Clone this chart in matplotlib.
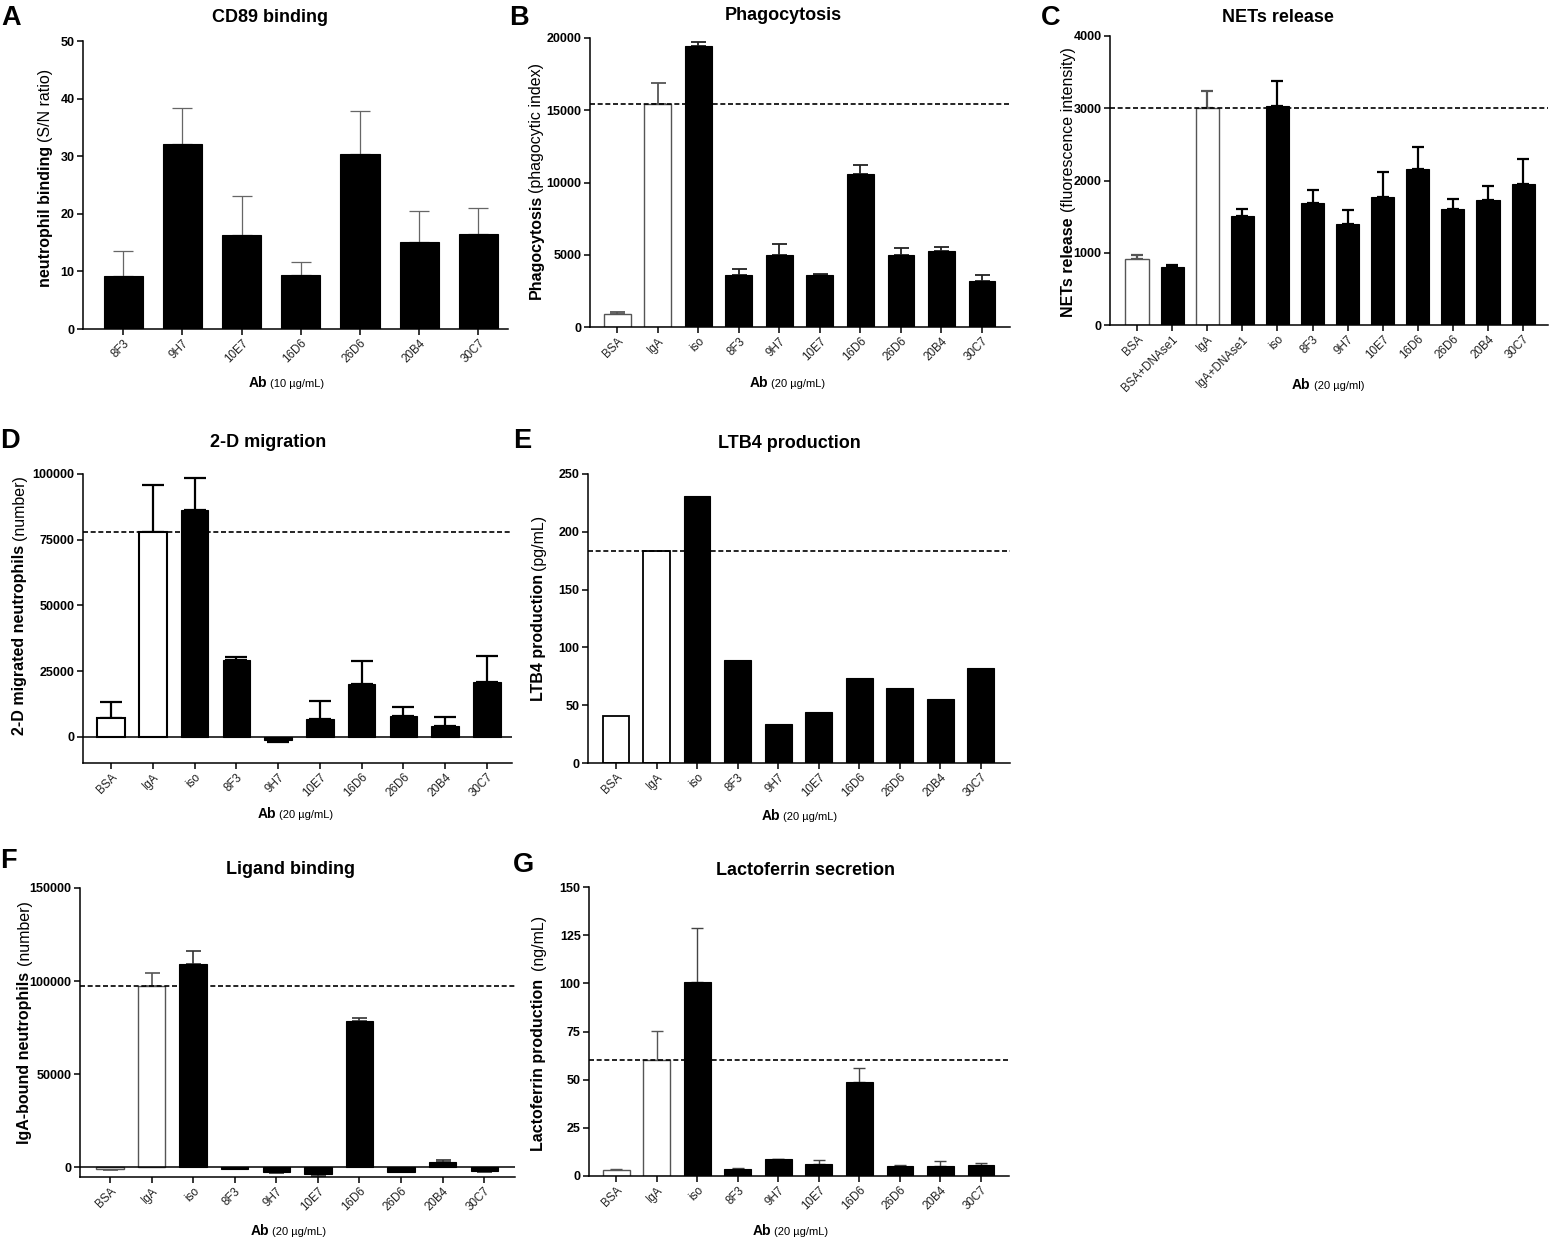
import numpy as np
import matplotlib
matplotlib.use("Agg")
import matplotlib.pyplot as plt

plt.rcParams['font.family'] = ['Liberation Sans', 'DejaVu Sans']

# ---- data ----
ab7 = ['8F3', '9H7', '10E7', '16D6', '26D6', '20B4', '30C7']
ab10 = ['BSA', 'IgA', 'iso', '8F3', '9H7', '10E7', '16D6', '26D6', '20B4', '30C7']
nets_labels = ['BSA', 'BSA+DNAse1', 'IgA', 'IgA+DNAse1', 'iso', '8F3', '9H7',
               '10E7', '16D6', '26D6', '20B4', '30C7']

cd89_mean = [9.2, 32.1, 16.3, 9.4, 30.3, 15.1, 16.5]
cd89_sem = [4.3, 6.2, 6.8, 2.3, 7.6, 5.4, 4.5]

phago_mean = [900, 15450, 19450, 3600, 4980, 3600, 10590, 4980, 5260, 3200]
phago_sem = [140, 1450, 300, 430, 760, 100, 620, 490, 250, 380]

nets_mean = [913, 807, 3008, 1513, 3026, 1693, 1393, 1772, 2155, 1610, 1735, 1952]
nets_sem = [51, 28, 235, 97, 356, 180, 199, 350, 313, 129, 189, 341]

mig_mean = [7230, 77800, 86420, 29190, -1015, 6850, 20300, 8000, 4310, 20810]
mig_sem = [6090, 18150, 12180, 1390, 885, 6850, 8630, 3550, 3430, 9900]

ltb4_mean = [41, 183, 230.7, 89.2, 33.5, 43.9, 73.6, 65, 55.7, 82.6]

lig_mean = [-800, 97600, 109360, -700, -2500, -3400, 78580, -2500, 2700, -1800]
lig_sem = [500, 6700, 6620, 200, 300, 1400, 1420, 200, 1060, 700]

lacto_mean = [2.9, 60.1, 100.8, 3.6, 8.7, 6.4, 48.8, 5.4, 5.2, 5.5]
lacto_sem = [0.9, 15.3, 28.1, 0.6, 0.2, 2.1, 7.3, 0.3, 2.4, 1.1]

open_bars = ('BSA', 'IgA')

W, H = 1550, 1239
fig = plt.figure(figsize=(W / 100, H / 100), dpi=100)

YLAB = 11.5   # y-axis label size


def fx(x):
    return x / W


def fy(y):
    return 1 - y / H


def bar_panel(rect, labels, means, sems, xlim, ylim, yticks, err_color='black',
              open_edge='#555555', ref=False, zero_line=False, err_lw=1.0, cap_px=14,
              open_lw=1.0):
    l, t, r, b = rect
    ax = fig.add_axes([fx(l), fy(b), (r - l) / W, (b - t) / H])
    x = np.arange(len(labels))
    is_open = [lab in open_bars for lab in labels]
    face = ['white' if o else 'black' for o in is_open]
    edge = [open_edge if o else 'black' for o in is_open]
    ax.bar(x, means, width=0.66, color=face, edgecolor=edge,
           linewidth=[open_lw if o else 0.8 for o in is_open], zorder=2)
    if sems is not None:
        for xi, m, s, o in zip(x, means, sems, is_open):
            yerr = [[s], [0]] if m < 0 else [[0], [s]]
            ax.errorbar([xi], [m], yerr=yerr, fmt='none',
                        ecolor=open_edge if o else err_color,
                        elinewidth=err_lw, capthick=err_lw,
                        capsize=cap_px / 2 * 0.72, zorder=1)
    if ref:
        ax.axhline(means[labels.index('IgA')], color='black', ls=(0, (3, 1.6)),
                   lw=1.2, zorder=3)
    if zero_line:
        ax.axhline(0, color='black', lw=1.1, zorder=3)
    ax.set_xlim(*xlim)
    ax.set_ylim(*ylim)
    ax.set_yticks(yticks)
    ax.set_xticks(x, labels, rotation=45, ha='right', rotation_mode='anchor',
                  fontsize=8.4, color='#222222')
    for lab in ax.get_yticklabels():
        lab.set_fontweight('bold')
        lab.set_fontsize(9)
    for side in ('top', 'right'):
        ax.spines[side].set_visible(False)
    for side in ('left', 'bottom'):
        ax.spines[side].set_linewidth(1.1)
    ax.tick_params(direction='out', length=4, width=1.1, pad=2)
    return ax


def mixed_label(parts, x, y, vertical=False, gap=4):
    # parts: (text, size, weight); x,y in reference pixels
    rend = fig.canvas.get_renderer()
    texts, lengths = [], []
    for s, size, weight in parts:
        t = fig.text(0, 0, s, size=size, weight=weight, rotation=90 if vertical else 0,
                     rotation_mode='anchor', ha='left', va='baseline')
        bb = t.get_window_extent(rend)
        texts.append(t)
        lengths.append(bb.height if vertical else bb.width)
    pos = -(sum(lengths) + gap * (len(texts) - 1)) / 2
    for t, L in zip(texts, lengths):
        if vertical:
            t.set_position((fx(x), fy(y) + pos / H))
        else:
            t.set_position((fx(x) + pos / W, fy(y)))
        pos += L + gap


def ylab(bold, normal, x, y, gap=4):
    mixed_label([(bold, YLAB, 'bold'), (normal, YLAB, 'normal')], x, y, True, gap)


def xlab(conc, x, y):
    mixed_label([('Ab', 10, 'bold'), (conc, 8, 'normal')], x, y, False, 3)


def titles(letter, lx, ly, title, tx, ty):
    fig.text(fx(lx), fy(ly), letter, size=19.5, weight='bold', ha='left', va='baseline')
    fig.text(fx(tx), fy(ty), title, size=13, weight='bold', ha='center', va='baseline')


# A
bar_panel((83, 41, 508, 329), ab7, cd89_mean, cd89_sem, (-0.68, 6.5), (0, 50),
          range(0, 51, 10), err_color='#666666', err_lw=0.9, cap_px=20)
titles('A', 1, 25, 'CD89 binding', 270, 22)
ylab('neutrophil binding', '(S/N ratio)', 50, 178)
xlab('(10 µg/mL)', 286, 387)

# B
bar_panel((590, 38, 1010, 327), ab10, phago_mean, phago_sem, (-0.67, 9.69), (0, 20000),
          range(0, 20001, 5000), err_color='#222222', err_lw=1.3, cap_px=15, ref=True)
titles('B', 509, 25, 'Phagocytosis', 783, 20)
ylab('Phagocytosis', '(phagocytic index)', 541, 181, gap=2)
xlab('(20 µg/mL)', 787, 387)

# C
bar_panel((1110, 36, 1548, 325), nets_labels, nets_mean, nets_sem, (-0.77, 11.71), (0, 4000),
          range(0, 4001, 1000), err_color='black', err_lw=1.6, cap_px=12, ref=True)
titles('C', 1041, 25, 'NETs release', 1278, 22)
ylab('NETs release', '(fluorescence intensity)', 1073, 182, gap=5)
xlab('(20 µg/ml)', 1328, 389)

# D
bar_panel((83, 474, 512, 763), ab10, mig_mean, mig_sem, (-0.67, 9.6), (-9900, 100000),
          range(0, 100001, 25000), err_color='black', open_edge='black', err_lw=1.6,
          cap_px=22, ref=True, zero_line=True, open_lw=1.5)
titles('D', 0, 448, '2-D migration', 268, 447)
ylab('2-D migrated neutrophils', '(number)', 24, 605, gap=5)
xlab('(20 µg/mL)', 295, 818)

# E
bar_panel((588, 474, 1010, 763), ab10, ltb4_mean, None, (-0.69, 9.72), (0, 250),
          range(0, 251, 50), open_edge='black', ref=True, open_lw=1.3)
titles('E', 513, 448, 'LTB4 production', 789, 448)
ylab('LTB4 production', '(pg/mL)', 543, 608)
xlab('(20 µg/mL)', 799, 820)

# F
bar_panel((80, 888, 515, 1177), ab10, lig_mean, lig_sem, (-0.72, 9.74), (-5200, 150000),
          range(0, 150001, 50000), err_color='#333333', err_lw=1.2, cap_px=15,
          ref=True, zero_line=True)
titles('F', 0, 868, 'Ligand binding', 290, 874)
ylab('IgA-bound neutrophils', '(number)', 29, 1022, gap=6)
xlab('(20 µg/mL)', 288, 1235)

# G
bar_panel((589, 887, 1009, 1176), ab10, lacto_mean, lacto_sem, (-0.67, 9.69), (0, 150),
          range(0, 151, 25), err_color='#444444', err_lw=1.0, cap_px=12, ref=True)
titles('G', 513, 872, 'Lactoferrin secretion', 805, 875)
ylab('Lactoferrin production', '(ng/mL)', 543, 1033, gap=9)
xlab('(20 µg/mL)', 790, 1235)

fig.savefig('out.png', dpi=100)
